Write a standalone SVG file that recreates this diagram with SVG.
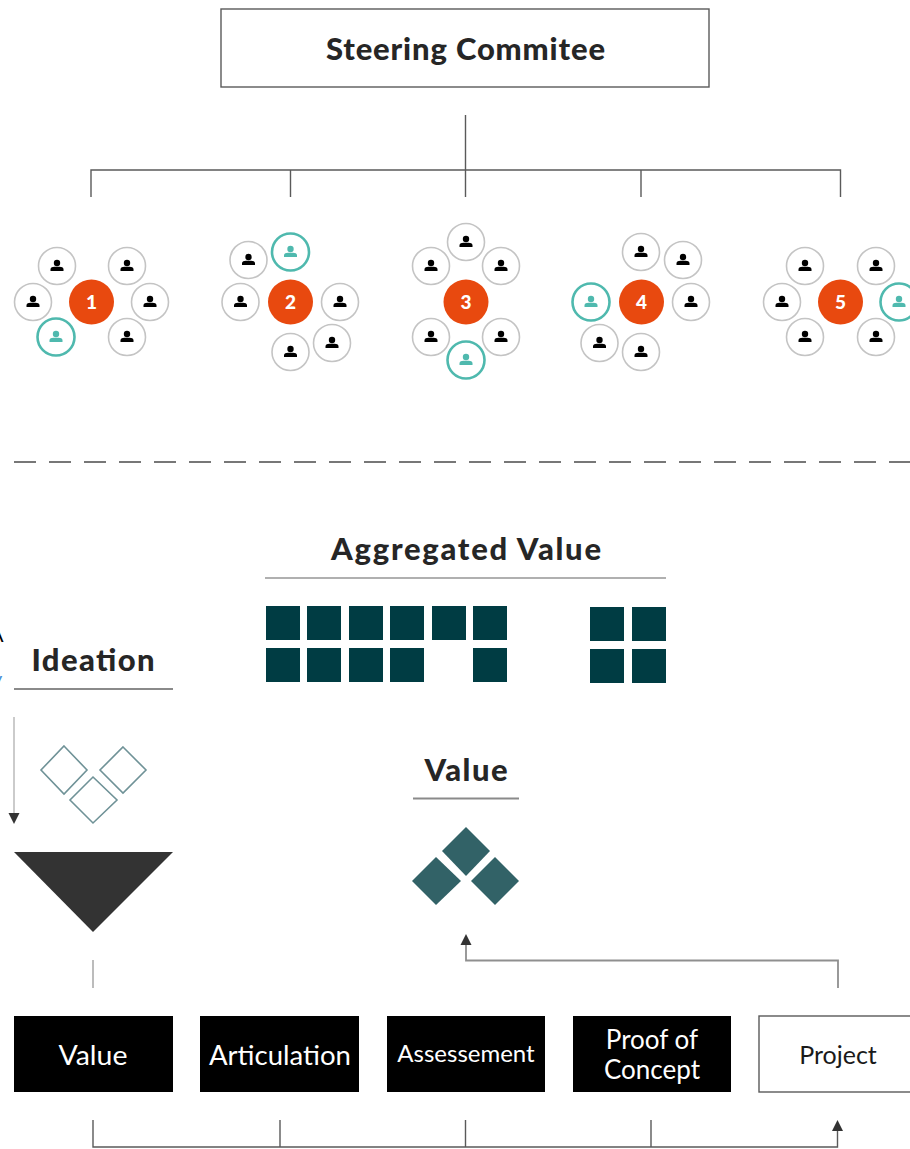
<svg xmlns="http://www.w3.org/2000/svg" xmlns:xlink="http://www.w3.org/1999/xlink" width="910" height="1149" viewBox="0 0 910 1149">
<style>
.h{font-family:"Lato","Liberation Sans",sans-serif;font-weight:900;fill:#262626;text-anchor:middle;font-size:31px}
.b{font-family:"Lato","Liberation Sans",sans-serif;font-weight:400;fill:#fff;text-anchor:middle;font-size:26px}
.n{font-family:"Lato","Liberation Sans",sans-serif;font-weight:900;fill:#fff;text-anchor:middle;font-size:19px}
.c{fill:none;stroke:#5a5a5a;stroke-width:1.4}
.rule{fill:none;stroke:#8a8a8a;stroke-width:1.8}
.hub{fill:#e8490f}
.sat{fill:#fff;stroke:#c4c4c4;stroke-width:1.6}
.satT{fill:#fff;stroke:#4fb9ae;stroke-width:2.6}
.sq{fill:#003c43}
.dO{fill:#fff;stroke:#6f9297;stroke-width:1.6}
.dF{fill:#326267}
.k{fill:#000}
</style>
<defs>
<g id="p"><circle cx="0" cy="-3" r="3.2"/><path d="M-6.500 5 L-6.500 3 Q-6 0.700 -2.500 0.700 L2.500 0.700 Q6 0.700 6.500 3 L6.500 5 Z"/></g>
<g id="s"><circle r="18.500" class="sat"/><use xlink:href="#p" href="#p" fill="#000"/></g>
<g id="t"><circle r="18.500" class="satT"/><use xlink:href="#p" href="#p" fill="#4fb9ae"/></g>
<path id="ah" d="M0 0 L-5.500 11 L5.500 11 Z" fill="#333"/>
</defs>

<g id="connectors">
<path class="c" d="M465.500 115V197M91 197V170H840.500V197M290.500 170V197M641 170V197"/>
<path d="M14 462H910" fill="none" stroke="#777" stroke-width="2" stroke-dasharray="22 13"/>
<path class="c" d="M14 717V814" style="stroke:#b5b5b5"/>
<use xlink:href="#ah" href="#ah" transform="translate(14,824) rotate(180)"/>
<path class="c" d="M93 960V988" style="stroke:#a0a0a0"/>
<path class="c" d="M838 988V960.500H466V945" style="stroke:#8f8f8f;stroke-width:1.800"/>
<use xlink:href="#ah" href="#ah" transform="translate(466,934)"/>
<path class="c" d="M93 1120V1147H837.500V1130M280 1120V1147M465.500 1120V1147M651 1120V1147"/>
<use xlink:href="#ah" href="#ah" transform="translate(837.500,1120)"/>
</g>

<g id="steering"><rect x="221" y="9" width="488" height="78" fill="#fff" stroke="#5a5a5a" stroke-width="1.400"/><text class="h" x="465.500" y="60" textLength="279" lengthAdjust="spacing">Steering Commitee</text></g>

<g id="team1">
<circle class="hub" cx="91.500" cy="302" r="22.500"/><text class="n" x="91.500" y="309">1</text>
<use xlink:href="#s" href="#s" x="57" y="266"/><use xlink:href="#s" href="#s" x="127" y="266"/><use xlink:href="#s" href="#s" x="33" y="302"/><use xlink:href="#s" href="#s" x="150" y="302"/><use xlink:href="#t" href="#t" x="56" y="337"/><use xlink:href="#s" href="#s" x="127" y="337"/>
</g>
<g id="team2">
<circle class="hub" cx="290.500" cy="302" r="22.500"/><text class="n" x="290.500" y="309">2</text>
<use xlink:href="#s" href="#s" x="248.500" y="260"/><use xlink:href="#t" href="#t" x="290.500" y="252"/><use xlink:href="#s" href="#s" x="240.500" y="302"/><use xlink:href="#s" href="#s" x="340" y="302"/><use xlink:href="#s" href="#s" x="290.500" y="352"/><use xlink:href="#s" href="#s" x="332" y="343"/>
</g>
<g id="team3">
<circle class="hub" cx="466" cy="302" r="22.500"/><text class="n" x="466" y="309">3</text>
<use xlink:href="#s" href="#s" x="466" y="242"/><use xlink:href="#s" href="#s" x="431" y="266"/><use xlink:href="#s" href="#s" x="501" y="266"/><use xlink:href="#s" href="#s" x="431" y="337"/><use xlink:href="#s" href="#s" x="501" y="337"/><use xlink:href="#t" href="#t" x="466" y="360"/>
</g>
<g id="team4">
<circle class="hub" cx="641.500" cy="302" r="22.500"/><text class="n" x="641.500" y="309">4</text>
<use xlink:href="#s" href="#s" x="641" y="252"/><use xlink:href="#s" href="#s" x="683" y="260"/><use xlink:href="#t" href="#t" x="591" y="302"/><use xlink:href="#s" href="#s" x="691" y="302"/><use xlink:href="#s" href="#s" x="599.500" y="343"/><use xlink:href="#s" href="#s" x="641" y="352"/>
</g>
<g id="team5">
<circle class="hub" cx="840.500" cy="302" r="22.500"/><text class="n" x="840.500" y="309">5</text>
<use xlink:href="#s" href="#s" x="805" y="266"/><use xlink:href="#s" href="#s" x="876" y="266"/><use xlink:href="#s" href="#s" x="782" y="302"/><use xlink:href="#t" href="#t" x="899" y="302"/><use xlink:href="#s" href="#s" x="805" y="337"/><use xlink:href="#s" href="#s" x="876" y="337"/>
</g>

<g id="aggregated">
<text class="h" x="466" y="560" textLength="270" lengthAdjust="spacing">Aggregated Value</text>
<path class="rule" d="M265 578H666" style="stroke:#b0b0b0"/>
<g class="sq">
<rect x="266" y="606" width="34" height="34"/><rect x="307" y="606" width="34" height="34"/><rect x="349" y="606" width="34" height="34"/><rect x="390" y="606" width="34" height="34"/><rect x="432" y="606" width="34" height="34"/><rect x="473" y="606" width="34" height="34"/>
<rect x="266" y="648" width="34" height="34"/><rect x="307" y="648" width="34" height="34"/><rect x="349" y="648" width="34" height="34"/><rect x="390" y="648" width="34" height="34"/><rect x="473" y="648" width="34" height="34"/>
<rect x="590" y="607" width="34" height="34"/><rect x="632" y="607" width="34" height="34"/><rect x="590" y="649" width="34" height="34"/><rect x="632" y="649" width="34" height="34"/>
</g>
</g>

<g id="ideation">
<text class="h" x="93" y="671" textLength="123" lengthAdjust="spacing">Ideation</text>
<path class="rule" d="M14 689H173"/>
<path class="dO" d="M64 746L87 770L64 794L41 770Z"/>
<path class="dO" d="M123 747L146 770L123 793L100 770Z"/>
<path class="dO" d="M93 777L117 800L93 823L70 800Z"/>
<path d="M14 852H173L93 932Z" fill="#333"/>
</g>

<g id="value-top">
<text class="h" x="466" y="781" textLength="83" lengthAdjust="spacing">Value</text>
<path class="rule" d="M413 798.500H519"/>
<path class="dF" d="M466 827L490 851L466 876L442 851Z"/>
<path class="dF" d="M436 857L461 881L436 905L412 881Z"/>
<path class="dF" d="M495 857L519 881L495 905L471 881Z"/>
</g>

<g id="stage-value"><rect class="k" x="14" y="1016" width="159" height="76"/><text class="b" x="93" y="1065" textLength="69" lengthAdjust="spacingAndGlyphs">Value</text></g>
<g id="stage-articulation"><rect class="k" x="200" y="1016" width="159" height="76"/><text class="b" x="280" y="1065" textLength="142" lengthAdjust="spacingAndGlyphs">Articulation</text></g>
<g id="stage-assessement"><rect class="k" x="387" y="1016" width="158" height="76"/><text class="b" x="466" y="1062" style="font-size:24px">Assessement</text></g>
<g id="stage-poc"><rect class="k" x="573" y="1016" width="158" height="76"/><text class="b" x="652" y="1049">Proof of</text><text class="b" x="652" y="1079">Concept</text></g>
<g id="stage-project"><rect x="759" y="1016" width="160" height="76" fill="#fff" stroke="#5a5a5a" stroke-width="1.400"/><text class="b" x="838" y="1064" style="fill:#1a1a1a;font-size:25px">Project</text></g>

<text x="-10" y="642" style="font-family:'Lato',sans-serif;font-size:20px;fill:#000">A</text>
<text x="-8" y="686" style="font-family:'Lato',sans-serif;font-size:20px;fill:#4a90d9">y</text>
</svg>
